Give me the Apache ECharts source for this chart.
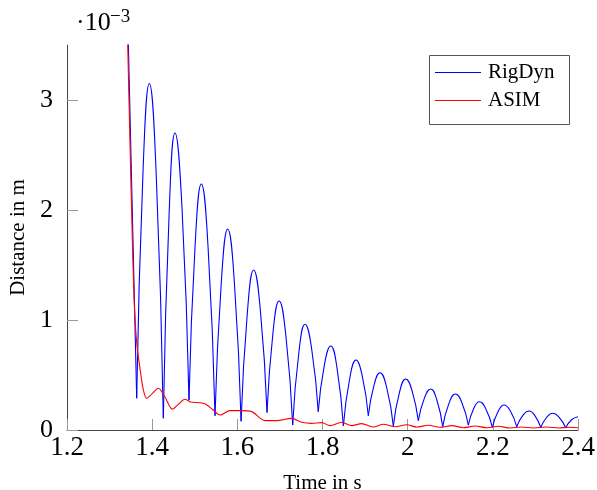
<!DOCTYPE html>
<html>
<head>
<meta charset="utf-8">
<script src="https://cdn.jsdelivr.net/npm/echarts@6/dist/echarts.min.js"></script>
<style>html,body{margin:0;padding:0;background:#fff;}#c{width:597px;height:490px;}</style>
</head>
<body>
<div id="c"></div>
<script>
// Time in s
const blueT = [1.3435, 1.3637,
  1.3785, 1.3933, 1.40975, 1.4262,
  1.4399, 1.4536, 1.47005, 1.4865,
  1.50095, 1.5154, 1.5315, 1.5476,
  1.5625, 1.5774, 1.5931, 1.6088,
  1.6236, 1.6384, 1.6540, 1.6697,
  1.6838, 1.6979, 1.7140, 1.7300,
  1.7445, 1.7590, 1.7745, 1.7900,
  1.8047, 1.8193, 1.8342, 1.8490,
  1.8639, 1.8787, 1.8932, 1.9076,
  1.9213, 1.9350, 1.9507, 1.9664,
  1.9809, 1.9954, 2.0102, 2.0250,
  2.0395, 2.0540, 2.0682, 2.0823,
  2.0972, 2.1120, 2.1273, 2.1425,
  2.1554, 2.1683, 2.1836, 2.1989,
  2.2126, 2.2263, 2.2412, 2.2560,
  2.2705, 2.2850, 2.2988, 2.3125,
  2.3266, 2.3407, 2.3559, 2.3710,
  2.3850, 2.4000];
// Distance in 1e-3 m
const blueV = [3.6, 0.288,
  2.349, 3.15, 2.298, 0.106,
  1.974, 2.70, 2.020, 0.27,
  1.686, 2.236, 1.646, 0.13,
  1.352, 1.827, 1.338, 0.08,
  1.070, 1.455, 1.092, 0.16,
  0.889, 1.173, 0.857, 0.045,
  0.705, 0.961, 0.739, 0.167,
  0.597, 0.764, 0.560, 0.036,
  0.468, 0.636, 0.494, 0.13,
  0.412, 0.521, 0.385, 0.035,
  0.344, 0.464, 0.358, 0.085,
  0.292, 0.373, 0.277, 0.03,
  0.244, 0.327, 0.248, 0.045,
  0.198, 0.257, 0.192, 0.024,
  0.170, 0.227, 0.172, 0.03,
  0.133, 0.173, 0.131, 0.024,
  0.116, 0.152, 0.115, 0.021,
  0.093, 0.121];

const redT = [1.3420, 1.3480, 1.3530, 1.3580, 1.3640, 1.3714, 1.3790, 1.3870,
  1.4000, 1.4145, 1.4300, 1.4473, 1.4620, 1.4770, 1.4900, 1.5124, 1.5250,
  1.5436, 1.5593, 1.5828, 1.6103, 1.6338, 1.6650, 1.6925, 1.7277, 1.7512,
  1.7747, 1.7980, 1.8177, 1.8450, 1.8686, 1.8920, 1.9190, 1.9430, 1.9703,
  1.9978, 2.0213, 2.0486, 2.0760, 2.1035, 2.1307, 2.1582, 2.1856, 2.2130,
  2.2404, 2.2678, 2.2950, 2.3266, 2.3540, 2.3810, 2.4000];
const redV = [3.6, 2.6, 1.8, 1.15, 0.78, 0.56, 0.37, 0.288,
  0.33, 0.379, 0.30, 0.19, 0.235, 0.279, 0.255, 0.248, 0.236,
  0.182, 0.136, 0.176, 0.176, 0.167, 0.085, 0.085, 0.106, 0.07,
  0.06, 0.067, 0.04, 0.07, 0.04, 0.058, 0.027, 0.052, 0.03,
  0.048, 0.027, 0.043, 0.025, 0.04, 0.021, 0.036, 0.021, 0.034,
  0.018, 0.027, 0.018, 0.027, 0.018, 0.025, 0.02];

const xTicks = [1.2, 1.4, 1.6, 1.8, 2.0, 2.2, 2.4];
const yTicks = [0, 1, 2, 3];

const FONT = 'Liberation Serif';
const BLUE = '#0000ff', RED = '#ff0000';

// split blue into arcs at local minima (cusps)
const blueSegs = [];
let cur = [[blueT[0], blueV[0]]];
for (let i = 1; i < blueT.length; i++) {
  cur.push([blueT[i], blueV[i]]);
  const isMin = i < blueT.length - 1 && blueV[i] < blueV[i - 1] && blueV[i] < blueV[i + 1];
  if (isMin) { blueSegs.push(cur); cur = [[blueT[i], blueV[i]]]; }
}
if (cur.length > 1) blueSegs.push(cur);

const series = blueSegs.map(seg => ({
  name: 'RigDyn', type: 'line', data: seg, symbol: 'none', smooth: 0.5,
  lineStyle: { color: BLUE, width: 1.1 }, itemStyle: { color: BLUE }, clip: true, z: 3
}));
series.push({
  name: 'ASIM', type: 'line', data: redT.map((t, i) => [t, redV[i]]), symbol: 'none',
  smooth: 0.3,
  lineStyle: { color: RED, width: 1.1 }, itemStyle: { color: RED }, clip: true, z: 4
});

const chart = echarts.init(document.getElementById('c'), null, { renderer: 'canvas' });
chart.setOption({
  animation: false,
  backgroundColor: '#fff',
  grid: { left: 67, right: 19, top: 45, bottom: 60, containLabel: false, outerBoundsMode: 'none' },
  xAxis: {
    type: 'value', min: 1.2, max: 2.4, interval: 0.2,
    name: 'Time in s', nameLocation: 'middle', nameGap: 43,
    nameTextStyle: { fontFamily: FONT, fontSize: 21, color: '#000' },
    axisLine: { show: true, lineStyle: { color: '#444', width: 1 } },
    axisTick: { show: true, inside: true, length: 11, lineStyle: { color: '#999' }, customValues: xTicks },
    axisLabel: { fontFamily: FONT, fontSize: 27, color: '#000', margin: 4, customValues: xTicks,
      formatter: v => String(Math.round(v * 10) / 10) },
    splitLine: { show: false }
  },
  yAxis: {
    type: 'value', min: 0, max: 3.5, interval: 1,
    name: 'Distance in m', nameLocation: 'middle', nameGap: 38,
    nameTextStyle: { fontFamily: FONT, fontSize: 21, color: '#000' },
    axisLine: { show: true, lineStyle: { color: '#444', width: 1 } },
    axisTick: { show: true, inside: true, length: 11, lineStyle: { color: '#999' }, customValues: yTicks },
    axisLabel: { fontFamily: FONT, fontSize: 26, color: '#000', margin: 14, customValues: yTicks },
    splitLine: { show: false }
  },
  legend: {
    data: ['RigDyn', 'ASIM'], orient: 'vertical', left: 435, top: 62,
    padding: 0, itemGap: 7, itemWidth: 46, itemHeight: 1, icon: 'rect',
    textStyle: { fontFamily: FONT, fontSize: 21, color: '#000', padding: [0, 0, 0, 2] }
  },
  graphic: [
    { type: 'rect', left: 427, top: 53, shape: { width: 140, height: 69 },
      style: { fill: 'none', stroke: '#555', lineWidth: 1 }, z: 10 },
    { type: 'text', left: 76, top: 10, style: { text: '·10', font: '26px "Liberation Serif"', fill: '#000' }, z: 10 },
    { type: 'text', left: 110, top: 8, style: { text: '−3', font: '19px "Liberation Serif"', fill: '#000' }, z: 10 }
  ],
  series: series
});
</script>
</body>
</html>
